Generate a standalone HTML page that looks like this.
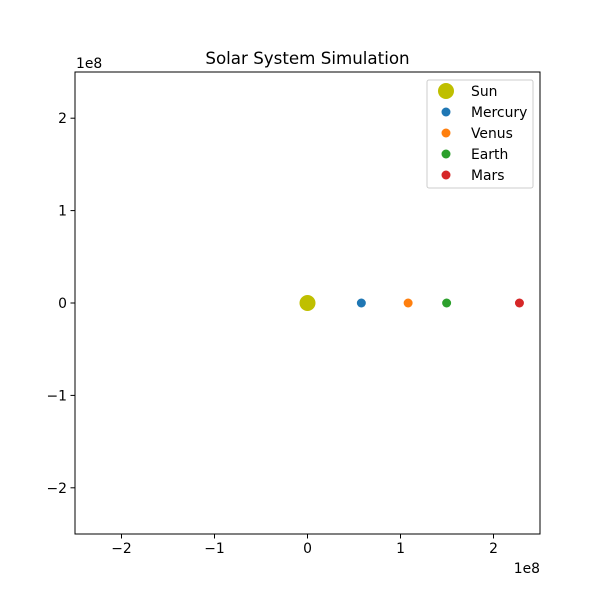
<!DOCTYPE html>
<html><head><meta charset="utf-8"><style>
body{margin:0;background:#fff}
svg text{font-family:"DejaVu Sans","Liberation Sans",sans-serif;}
</style></head><body>
<svg id="chart" width="600" height="600" viewBox="0 0 600 600">
<rect width="600" height="600" fill="#fff"/>
<text x="307.5" y="64" text-anchor="middle" font-size="16.7">Solar System Simulation</text>
<g id="ticks"></g>
<g id="marks"></g>
<rect x="75" y="72" width="465" height="462" fill="none" stroke="#000" stroke-width="1"/>
<text x="76" y="68" font-size="13.9">1e8</text>
<text x="540" y="573" font-size="13.9" text-anchor="end">1e8</text>
<g id="legend"></g>
</svg>
<script>
const names=["Sun","Mercury","Venus","Earth","Mars"];
const xs=[0,57.9e6,108.2e6,149.6e6,227.9e6];
const ys=[0,0,0,0,0];
const colors=["#bfbf00","#1f77b4","#ff7f0e","#2ca02c","#d62728"];
const sizes=[8,4.5,4.5,4.5,4.5];
const xticks=[-2,-1,0,1,2];
const yticks=[-2,-1,0,1,2];
const X0=75,X1=540,Y0=534,Y1=72,MIN=-2.5e8,MAX=2.5e8;
const sx=v=>X0+(v-MIN)/(MAX-MIN)*(X1-X0);
const sy=v=>Y0-(v-MIN)/(MAX-MIN)*(Y0-Y1);
const NS="http://www.w3.org/2000/svg";
function mk(t,a,p){const e=document.createElementNS(NS,t);for(const k in a)e.setAttribute(k,a[k]);p.appendChild(e);return e;}
const tg=document.getElementById('ticks');
xticks.forEach(t=>{const x=sx(t*1e8);
const l=mk('line',{x1:x,x2:x,y1:534,y2:538.5,stroke:'#000'},tg);


const tx=mk('text',{x:x,y:553,'text-anchor':'middle','font-size':13.9},tg);tx.textContent=(t<0?'−':'')+Math.abs(t);

});
yticks.forEach(t=>{const y=sy(t*1e8);
const l=mk('line',{x1:70.5,x2:75,y1:y,y2:y,stroke:'#000'},tg);


const tx=mk('text',{x:67,y:y+5,'text-anchor':'end','font-size':13.9},tg);tx.textContent=(t<0?'−':'')+Math.abs(t);

});
const mg=document.getElementById('marks');
names.forEach((n,i)=>{const c=mk('circle',{cx:sx(xs[i]),cy:sy(ys[i]),r:sizes[i],fill:colors[i]},mg);

});
const lg=document.getElementById('legend');
mk('rect',{x:427,y:80,width:106,height:108,rx:2,fill:'#fff','fill-opacity':0.8,stroke:'#ccc'},lg);
names.forEach((n,i)=>{const y=91+i*21;
const c=mk('circle',{cx:446,cy:y,r:sizes[i],fill:colors[i]},lg);


const t=mk('text',{x:471,y:y+5,'font-size':13.9},lg);t.textContent=n;

});
</script>
</body></html>
